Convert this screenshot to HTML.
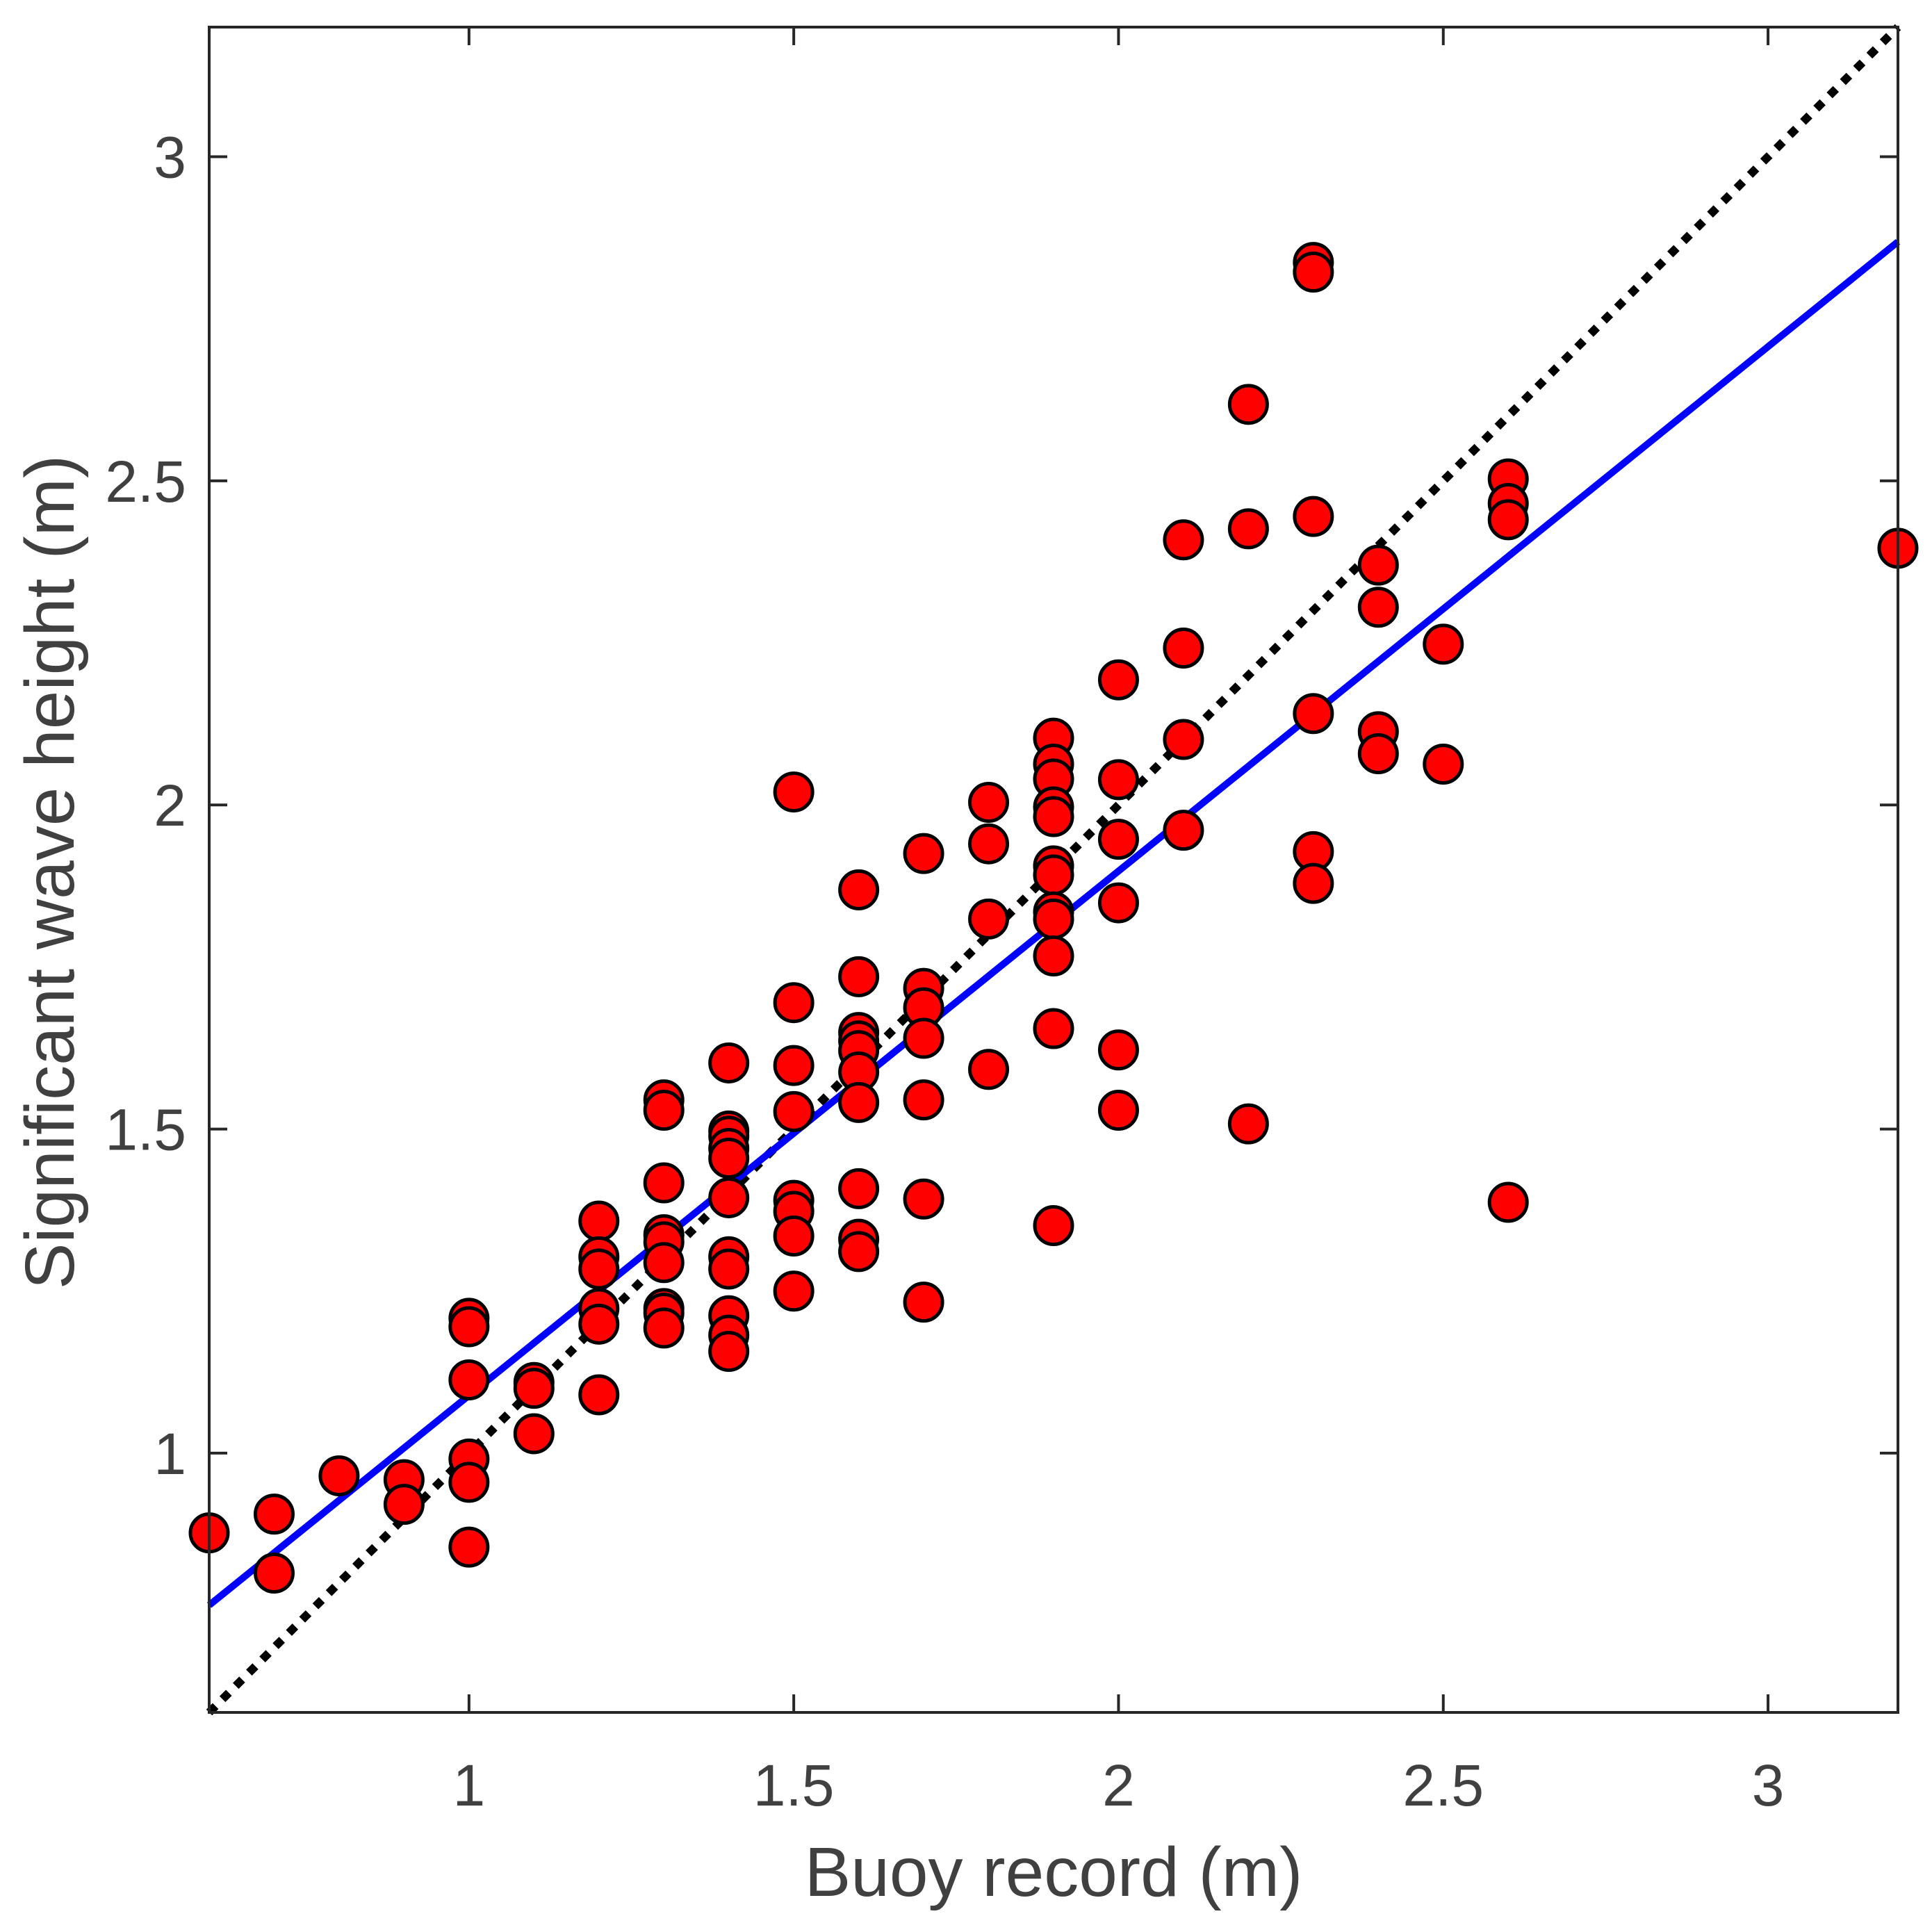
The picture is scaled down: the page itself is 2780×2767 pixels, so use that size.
<!DOCTYPE html>
<html><head><meta charset="utf-8"><style>
html,body{margin:0;padding:0;background:#fff;}
svg{display:block;font-family:"Liberation Sans",Arial,sans-serif;}
</style></head><body>
<svg id="chart" width="2780" height="2767" viewBox="0 0 2780 2767" xmlns="http://www.w3.org/2000/svg">
<rect width="2780" height="2767" fill="#fff"/>
<g id="lines"></g>
<g id="points"></g>
<g id="axes"></g>
<text x="1516" y="2728" font-size="100" fill="#404040" text-anchor="middle">Buoy record (m)</text>
<text transform="translate(106,1255) rotate(-90)" font-size="100" fill="#404040" text-anchor="middle">Significant wave height (m)</text>
</svg>
<script>
const buoyX = [0.6,0.7,0.7,0.8,0.9,0.9,
1.0,1.0,1.0,1.0,1.0,1.0,
1.1,1.1,1.1,
1.2,1.2,1.2,1.2,1.2,1.2,
1.3,1.3,1.3,1.3,1.3,1.3,1.3,1.3,1.3,
1.4,1.4,1.4,1.4,1.4,1.4,1.4,1.4,1.4,1.4,1.4,
1.5,1.5,1.5,1.5,1.5,1.5,1.5,1.5,
1.6,1.6,1.6,1.6,1.6,1.6,1.6,1.6,1.6,1.6,
1.7,1.7,1.7,1.7,1.7,1.7,1.7,
1.8,1.8,1.8,1.8,
1.9,1.9,1.9,1.9,1.9,1.9,1.9,1.9,1.9,1.9,1.9,1.9,
2.0,2.0,2.0,2.0,2.0,2.0,
2.1,2.1,2.1,2.1,
2.2,2.2,2.2,
2.3,2.3,2.3,2.3,2.3,2.3,
2.4,2.4,2.4,2.4,
2.5,2.5,
2.6,2.6,2.6,2.6,
3.2];
const modelY = [0.877,0.906,0.815,0.965,0.959,0.921,
1.208,1.195,1.113,0.991,0.955,0.855,
1.109,1.100,1.030,
1.358,1.303,1.284,1.223,1.199,1.09,
1.545,1.529,1.417,1.337,1.326,1.294,1.223,1.216,1.193,
1.602,1.497,1.489,1.47,1.455,1.394,1.303,1.284,1.212,1.182,1.157,
2.02,1.695,1.598,1.527,1.39,1.373,1.335,1.25,
1.869,1.735,1.649,1.636,1.621,1.588,1.541,1.408,1.33,1.311,
1.925,1.717,1.687,1.64,1.545,1.392,1.233,
2.004,1.94,1.824,1.592,
2.103,2.063,2.04,1.997,1.982,1.906,1.892,1.835,1.824,1.767,1.655,1.351,
2.193,2.039,1.947,1.849,1.622,1.529,
2.409,2.242,2.101,1.961,
2.618,2.426,1.508,
2.837,2.822,2.445,2.141,1.928,1.879,
2.37,2.305,2.113,2.079,
2.248,2.063,
2.503,2.465,2.44,1.387,
2.396];
const fitSlope = [0.809];
const fitIntercept = [0.280];
const xTicks = [1,1.5,2,2.5,3];
const xTickLabels = ["1","1.5","2","2.5","3"];
const yTicks = [1,1.5,2,2.5,3];
const yTickLabels = ["1","1.5","2","2.5","3"];
const domain = [0.6,3.2];

const L=301,R=2731,T=39,B=2464;
const sx=v=>L+(v-domain[0])/(domain[1]-domain[0])*(R-L);
const sy=v=>B-(v-domain[0])/(domain[1]-domain[0])*(B-T);
const NS="http://www.w3.org/2000/svg";
function mk(tag,attrs,parent){const e=document.createElementNS(NS,tag);for(const k in attrs)e.setAttribute(k,attrs[k]);parent.appendChild(e);return e;}

const lg=document.getElementById('lines');
const one=mk('line',{x1:sx(domain[0]),y1:sy(domain[0]),x2:sx(domain[1]),y2:sy(domain[1]),stroke:'#000','stroke-width':12,'stroke-dasharray':'13 14'},lg);


const fit=mk('line',{x1:sx(domain[0]),y1:sy(fitSlope[0]*domain[0]+fitIntercept[0]),x2:sx(domain[1]),y2:sy(fitSlope[0]*domain[1]+fitIntercept[0]),stroke:'#0000ff','stroke-width':10},lg);



const pg=document.getElementById('points');
for(let i=0;i<buoyX.length;i++){
  const c=mk('circle',{cx:sx(buoyX[i]),cy:sy(modelY[i]),r:27,fill:'#ff0000',stroke:'#000','stroke-width':5},pg);
  
  
}

const ag=document.getElementById('axes');
const box=mk('rect',{x:L,y:T,width:R-L,height:B-T,fill:'none',stroke:'#262626','stroke-width':4},ag);


const tl=26;
xTicks.forEach((v,i)=>{
  const x=sx(v);
  mk('line',{x1:x,y1:B,x2:x,y2:B-tl,stroke:'#262626','stroke-width':4},ag);
  mk('line',{x1:x,y1:T,x2:x,y2:T+tl,stroke:'#262626','stroke-width':4},ag);
  const t=mk('text',{x:x,y:2598,'font-size':84,fill:'#404040','text-anchor':'middle'},ag);
  t.textContent=xTickLabels[i];
  
  
});
yTicks.forEach((v,i)=>{
  const y=sy(v);
  mk('line',{x1:L,y1:y,x2:L+tl,y2:y,stroke:'#262626','stroke-width':4},ag);
  mk('line',{x1:R,y1:y,x2:R-tl,y2:y,stroke:'#262626','stroke-width':4},ag);
  const t=mk('text',{x:268,y:y+30,'font-size':84,fill:'#404040','text-anchor':'end'},ag);
  t.textContent=yTickLabels[i];
  
  
});
</script>
</body></html>
